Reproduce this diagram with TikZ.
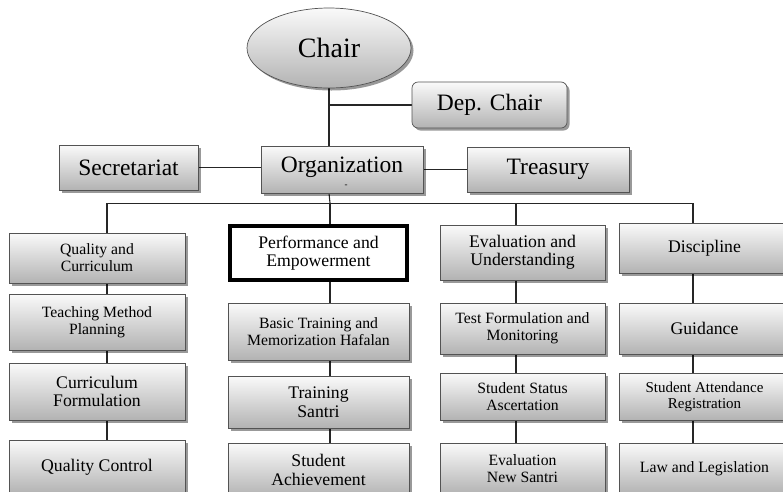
\documentclass[tikz,border=0pt]{standalone}
\usepackage{fontspec}
\setmainfont{Liberation Serif}
\usetikzlibrary{shapes.geometric,shadows,backgrounds}
\tikzset{
  gbox/.style={draw=gray!65!black, line width=0.7pt, top color=gray!4, bottom color=gray!60,
    drop shadow={shadow xshift=2.5pt, shadow yshift=-2.5pt, opacity=0.4, fill=black},
    align=center, inner sep=2pt, text=black},
  wbox/.style={draw=black, line width=4pt, fill=white, align=center, inner sep=2pt, text=black},
  fxs/.style={font=\fontsize{15}{16}\selectfont},
  fs/.style={font=\fontsize{15.7}{17}\selectfont},
  fm/.style={font=\fontsize{17.7}{18.5}\selectfont},
  fl/.style={font=\fontsize{23.5}{24}\selectfont},
  link/.style={draw=black!85, line width=1.1pt},
}
\begin{document}
\begin{tikzpicture}[x=1pt,y=-1pt]
\useasboundingbox (0,0) rectangle (783,491);
\clip (0,0) rectangle (783,491);

% top level
\node[gbox, ellipse, minimum width=164pt, minimum height=80pt, font=\fontsize{28}{30}\selectfont] (chair) at (329,48) {Chair};
\node[gbox, rounded corners=6pt, minimum width=155pt, minimum height=46pt, fl] (dep) at (489.5,105) {Dep. Chair};
\node[gbox, minimum width=162pt, minimum height=47pt, fl, text height=10pt, text depth=5pt] (org) at (342,169.5)
  {\ooalign{Organization\cr\hfil\hspace{8pt}\smash{\raisebox{-15pt}{\fontsize{9}{9}\selectfont -}}\hfil\cr}};
\node[gbox, minimum width=139pt, minimum height=45pt, fl] (sec) at (128.5,167.5) {Secretariat};
\node[gbox, minimum width=162pt, minimum height=45pt, fl] (tre) at (548,169.5) {Treasury};

% column 1
\node[gbox, minimum width=176pt, minimum height=50pt, fs] (q1) at (97,258) {Quality and\\Curriculum};
\node[gbox, minimum width=176pt, minimum height=56pt, fs] (q2) at (97,322) {Teaching Method\\Planning};
\node[gbox, minimum width=176pt, minimum height=57pt, fm] (q3) at (97,391.5) {Curriculum\\Formulation};
\node[gbox, minimum width=176pt, minimum height=54pt, fm] (q4) at (97,467) {Quality Control};

% column 2
\node[wbox, minimum width=177pt, minimum height=54pt, fm] (p1) at (318.5,253) {Performance and\\Empowerment};
\node[gbox, minimum width=181pt, minimum height=57pt, fs] (p2) at (318.5,331.5) {Basic Training and\\Memorization Hafalan};
\node[gbox, minimum width=181pt, minimum height=52pt, fm] (p3) at (318.5,402) {Training\\Santri};
\node[gbox, minimum width=181pt, minimum height=54pt, fm] (p4) at (318.5,470) {Student\\Achievement};

% column 3
\node[gbox, minimum width=165pt, minimum height=55pt, fm] (e1) at (522.5,252.5) {Evaluation and\\Understanding};
\node[gbox, minimum width=165pt, minimum height=51pt, fs] (e2) at (522.5,328.5) {Test Formulation and\\Monitoring};
\node[gbox, minimum width=165pt, minimum height=47pt, fs] (e3) at (522.5,396.5) {Student Status\\Ascertation};
\node[gbox, minimum width=165pt, minimum height=51pt, fs] (e4) at (522.5,468.5) {Evaluation\\New Santri};

% column 4
\node[gbox, minimum width=171pt, minimum height=50pt, fm] (g1) at (704.5,248) {Discipline};
\node[gbox, minimum width=171pt, minimum height=51pt, fm] (g2) at (704.5,328.5) {Guidance};
\node[gbox, minimum width=171pt, minimum height=47pt, fxs] (g3) at (704.5,396.5) {Student Attendance\\Registration};
\node[gbox, minimum width=171pt, minimum height=51pt, fs] (g4) at (704.5,468.5) {Law and Legislation};

% branch points of the connector tree
\coordinate (bus) at (330,203);
\coordinate (d1) at (107,203);
\coordinate (d3) at (516,203);
\coordinate (d4) at (693,203);

\begin{scope}[on background layer]
  \fill[white] (0,0) rectangle (783,491);
  \path[link] (chair.south) -- (chair.south |- org.north);
  \path[link] (chair.south |- dep.west) -- (dep.west);
  \path[link] (sec.east) -- (sec.east -| org.west);
  \path[link] (tre.west) -- (tre.west -| org.east);
  \path[link] (chair.south |- org.south) -- (bus);
  \path[link, line width=0.8pt] (d1) -- (d4);
  \path[link] (d1) -- (d1 |- q1.north);
  \path[link] (bus) -- (bus |- p1.north);
  \path[link] (d3) -- (d3 |- e1.north);
  \path[link] (d4) -- (d4 |- g1.north);
  \foreach \a/\b in {q1/q2,q2/q3,q3/q4} \path[link] (d1 |- \a.south) -- (d1 |- \b.north);
  \foreach \a/\b in {p1/p2,p2/p3,p3/p4} \path[link] (bus |- \a.south) -- (bus |- \b.north);
  \foreach \a/\b in {e1/e2,e2/e3,e3/e4} \path[link] (d3 |- \a.south) -- (d3 |- \b.north);
  \foreach \a/\b in {g1/g2,g2/g3,g3/g4} \path[link] (d4 |- \a.south) -- (d4 |- \b.north);
\end{scope}
\end{tikzpicture}
\end{document}
